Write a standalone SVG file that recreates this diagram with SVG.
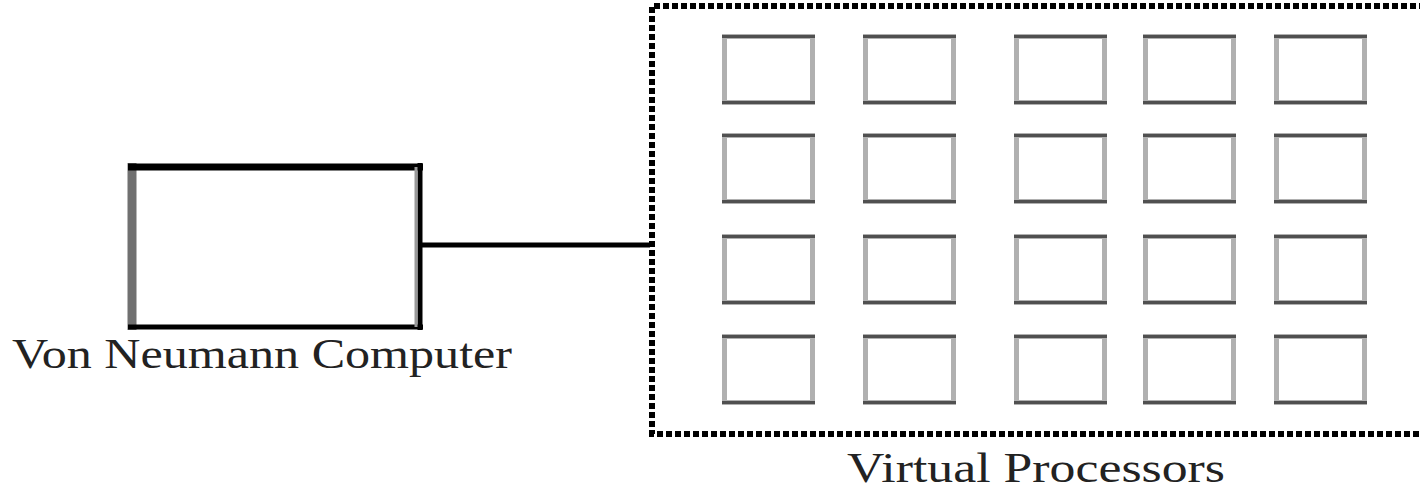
<svg xmlns="http://www.w3.org/2000/svg" width="1420" height="490" viewBox="0 0 1420 490">
<style>
.lbl{font-family:"Liberation Serif","Times New Roman",serif;font-size:42px;fill:#222}
.vp-side{fill:none;stroke:#b0b0b0;stroke-width:5}
.vp-tb{stroke:#505050;stroke-width:3}
</style>
<defs>
<g id="vp">
<rect class="vp-side" x="2.5" y="1.5" width="88" height="66"/>
<line class="vp-tb" x1="0" y1="1.5" x2="93" y2="1.5"/>
<line class="vp-tb" x1="0" y1="67.5" x2="93" y2="67.5"/>
</g>
</defs>
<rect width="1420" height="490" fill="#fff"/>
<g id="connectors">
<line x1="420" y1="245" x2="650" y2="245" stroke="#000" stroke-width="5"/>
</g>
<g id="von-neumann">
<rect x="134" y="167" width="284" height="160" fill="#fff" stroke="none"/>
<line x1="132" y1="163" x2="132" y2="330" stroke="#707070" stroke-width="9"/>
<line x1="128" y1="167" x2="423" y2="167" stroke="#000" stroke-width="7"/>
<line x1="128" y1="327" x2="423" y2="327" stroke="#000" stroke-width="5"/>
<line x1="420" y1="163" x2="420" y2="330" stroke="#000" stroke-width="5"/>
<line x1="416" y1="167" x2="416" y2="327" stroke="#999" stroke-width="3"/>
<text class="lbl" x="12" y="368" textLength="500" lengthAdjust="spacingAndGlyphs">Von Neumann Computer</text>
</g>
<g id="virtual-processors">
<path d="M1425 6 H652 V434 H1425" fill="none" stroke="#000" stroke-width="6" stroke-dasharray="6 3"/>
<use href="#vp" x="722" y="35"/><use href="#vp" x="863" y="35"/><use href="#vp" x="1014" y="35"/><use href="#vp" x="1143" y="35"/><use href="#vp" x="1274" y="35"/>
<use href="#vp" x="722" y="134"/><use href="#vp" x="863" y="134"/><use href="#vp" x="1014" y="134"/><use href="#vp" x="1143" y="134"/><use href="#vp" x="1274" y="134"/>
<use href="#vp" x="722" y="235"/><use href="#vp" x="863" y="235"/><use href="#vp" x="1014" y="235"/><use href="#vp" x="1143" y="235"/><use href="#vp" x="1274" y="235"/>
<use href="#vp" x="722" y="335"/><use href="#vp" x="863" y="335"/><use href="#vp" x="1014" y="335"/><use href="#vp" x="1143" y="335"/><use href="#vp" x="1274" y="335"/>
<text class="lbl" x="847" y="482" font-size="40" textLength="378" lengthAdjust="spacingAndGlyphs">Virtual Processors</text>
</g>
</svg>
